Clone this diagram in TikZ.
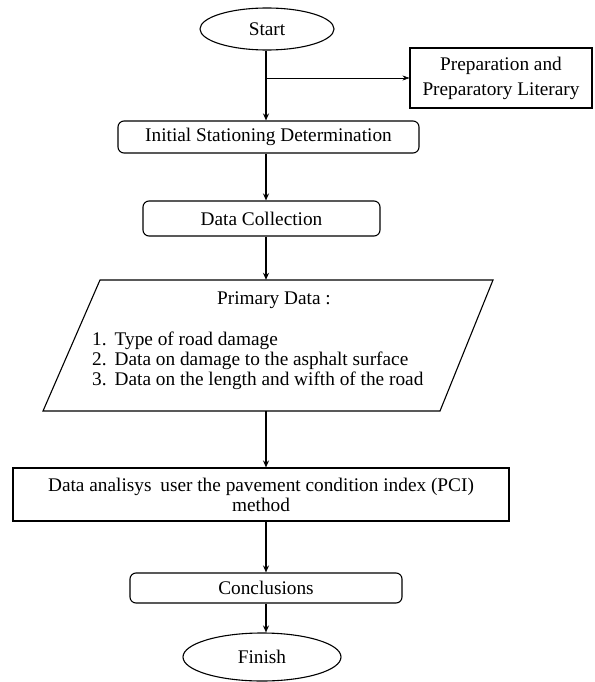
\documentclass[tikz,border=0pt]{standalone}
\usepackage{fontspec}
\setmainfont{Liberation Serif}
\usetikzlibrary{shapes.geometric,arrows.meta}
\begin{document}
\begin{tikzpicture}[x=1pt,y=1pt,
  every node/.style={font=\fontsize{19.3}{21}\selectfont, inner sep=0pt},
  boxr/.style={draw, line width=1.1pt, rounded corners=6pt},
  boxs/.style={draw, line width=1.1pt},
  term/.style={draw, ellipse, line width=1.1pt},
  arr/.style={line width=1.6pt, -{Stealth[length=7pt,width=6pt]}},
  thinarr/.style={line width=0.6pt, -{Stealth[length=7pt,width=5pt]}}]
\useasboundingbox (0,0) rectangle (594,-682);
% nodes
\node[term, minimum width=134pt, minimum height=42pt] (start) at (267,-29) {Start};
\node[boxs, minimum width=182pt, minimum height=60pt, align=center,
      font=\fontsize{19.3}{25}\selectfont] (prep) at (501,-78) {Preparation and\\Preparatory Literary};
\node[boxr, minimum width=301pt, minimum height=32pt] (init) at (268.5,-137) {Initial Stationing Determination};
\node[boxr, minimum width=237pt, minimum height=35pt] (dc) at (261.5,-218.5) {Data Collection};
% parallelogram
\node[minimum width=396pt, minimum height=131pt] (pd) at (268,-345.5) {};
\draw[line width=1.1pt] (100,-280) coordinate (p1) -- (493,-280) coordinate (p2)
      -- (440,-411) coordinate (p3) -- (43,-411) coordinate (p4) -- cycle;
\node (pdt) at (274,-300) {Primary Data :};
\node[anchor=west, align=left, font=\fontsize{19.3}{19.8}\selectfont] (pdl) at (92,-361)
  {1.\hspace{8pt}Type of road damage\\
   2.\hspace{8pt}Data on damage to the asphalt surface\\
   3.\hspace{8pt}Data on the length and wifth of the road};
\node[boxs, minimum width=496pt, minimum height=53pt, align=center,
      font=\fontsize{19.3}{20}\selectfont] (da) at (261,-494.5)
  {Data analisys\hspace{4pt} user the pavement condition index (PCI)\\method};
\node[boxr, minimum width=272pt, minimum height=30pt] (concl) at (266,-588) {Conclusions};
\node[term, minimum width=158pt, minimum height=48pt] (finish) at (262,-657) {Finish};
% connectors
\coordinate (br) at (266,-78);
\draw[arr] (start.south -| br) -- (init.north -| br);
\draw[thinarr] (br) -- (prep.west |- br);
\draw[arr] (init.south -| br) -- (dc.north -| br);
\draw[arr] (dc.south -| br) -- (pd.north -| br);
\draw[arr] (pd.south -| br) -- (da.north -| br);
\draw[arr] (da.south -| br) -- (concl.north -| br);
\draw[arr] (concl.south -| br) -- (finish.north -| br);
\end{tikzpicture}
\end{document}
